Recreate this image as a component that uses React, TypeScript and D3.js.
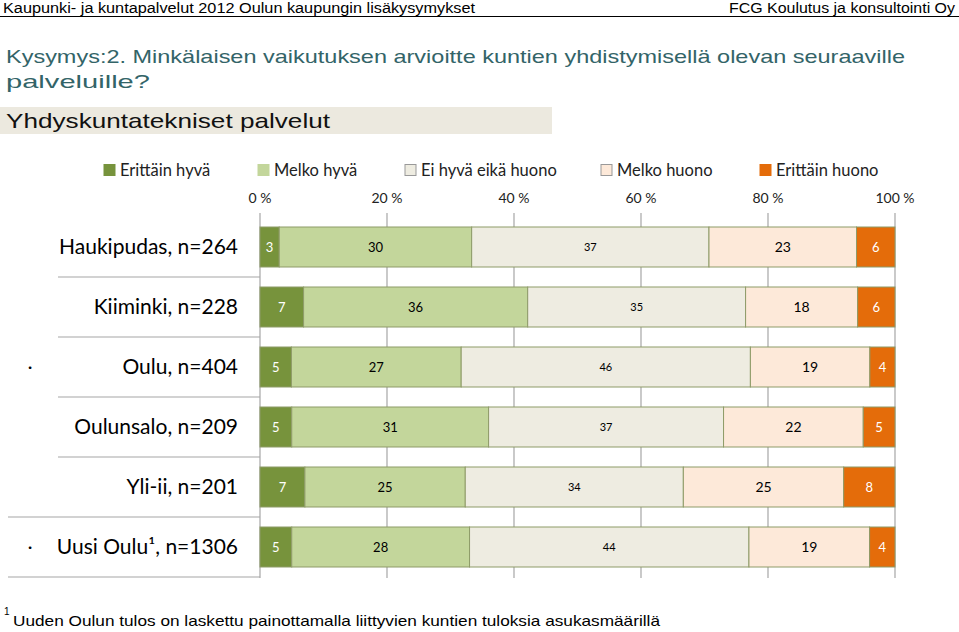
import React from "react";
import * as d3 from "d3";

const categories = [
  "Haukipudas, n=264",
  "Kiiminki, n=228",
  "Oulu, n=404",
  "Oulunsalo, n=209",
  "Yli-ii, n=201",
  "Uusi Oulu¹, n=1306",
];
const seriesNames = ["Erittäin hyvä", "Melko hyvä", "Ei hyvä eikä huono", "Melko huono", "Erittäin huono"];
const erittainHyva = [3, 7, 5, 5, 7, 5];
const melkoHyva = [30, 36, 27, 31, 25, 28];
const eiHyvaEikaHuono = [37, 35, 46, 37, 34, 44];
const melkoHuono = [23, 18, 19, 22, 25, 19];
const erittainHuono = [6, 6, 4, 5, 8, 4];
const tickValues = [0, 20, 40, 60, 80, 100];
const dotRows = [2, 5];

const colors = ["#77933C", "#C3D69B", "#EEECE1", "#FDE9D9", "#E46C0A"];
const labelColors = ["#ffffff", "#000000", "#000000", "#000000", "#ffffff"];
const labelSizes = [13, 13, 11, 14, 13];
const legendX = [104, 258, 405, 601, 760];

export default function App() {
  const W = 959;
  const H = 632;
  const series = [erittainHyva, melkoHyva, eiHyvaEikaHuono, melkoHuono, erittainHuono];
  const x = d3.scaleLinear().domain([0, 100]).range([260, 895]);
  const y = d3
    .scaleBand<number>()
    .domain(categories.map((_, i) => i))
    .range([217, 577])
    .paddingInner(1 / 3)
    .paddingOuter(1 / 6);
  const step = y.step();
  const font = "Lato, 'Open Sans', sans-serif";
  const narrow = "'Liberation Sans Narrow', 'Liberation Sans', Arial, sans-serif";

  const rows = categories.map((c, i) => {
    const vals = series.map((s) => s[i]);
    const total = d3.sum(vals);
    let acc = 0;
    const segs = vals.map((v, k) => {
      const x0 = (acc / total) * 100;
      acc += v;
      const x1 = (acc / total) * 100;
      return { v, k, x0, x1 };
    });
    return { c, i, segs };
  });

  return (
    <svg
      width={W}
      height={H}
      style={{ position: "absolute", left: 0, top: 0, background: "#fff" }}
    >
      {/* header */}
      <text x={3} y={13} fontFamily={narrow} fontSize={14} textLength={472} lengthAdjust="spacingAndGlyphs">
        Kaupunki- ja kuntapalvelut 2012 Oulun kaupungin lisäkysymykset
      </text>
      <text x={729} y={13} fontFamily={narrow} fontSize={14} textLength={226} lengthAdjust="spacingAndGlyphs">
        FCG Koulutus ja konsultointi Oy
      </text>
      <line x1={0} x2={W} y1={16.5} y2={16.5} stroke="#000" strokeWidth={1} />

      {/* question */}
      <text x={6} y={63} fontFamily={narrow} fontSize={19} fill="#336468" textLength={899} lengthAdjust="spacingAndGlyphs">
        Kysymys:2. Minkälaisen vaikutuksen arvioitte kuntien yhdistymisellä olevan seuraaville
      </text>
      <text x={6} y={88} fontFamily={narrow} fontSize={19} fill="#336468" textLength={144} lengthAdjust="spacingAndGlyphs">
        palveluille?
      </text>

      {/* section title */}
      <rect x={0} y={107} width={552} height={27} fill="#ECE9DF" />
      <text x={6} y={128} fontFamily={narrow} fontSize={21} fill="#111" textLength={324} lengthAdjust="spacingAndGlyphs">
        Yhdyskuntatekniset palvelut
      </text>

      {/* legend */}
      {seriesNames.map((n, k) => (
        <g key={n}>
          <rect
            x={legendX[k]}
            y={164.5}
            width={11}
            height={11}
            fill={colors[k]}
            stroke={k === 2 || k === 3 ? "#999" : colors[k]}
            strokeWidth={1}
          />
          <text x={legendX[k] + 16} y={176} fontFamily={font} fontSize={16.5} fill="#222">
            {n}
          </text>
        </g>
      ))}

      {/* axis tick labels */}
      {tickValues.map((t) => (
        <text key={t} x={x(t)} y={203} textAnchor="middle" fontFamily={font} fontSize={14} fill="#222">
          {t} %
        </text>
      ))}

      {/* gridlines */}
      {tickValues.map((t) => (
        <line key={t} x1={x(t)} x2={x(t)} y1={213} y2={578} stroke="#A6A6A6" strokeWidth={1.2} />
      ))}

      {/* category separators */}
      {categories.map((_, i) => {
        const yy = (y(i) as number) + y.bandwidth() + (step - y.bandwidth()) / 2;
        const x1 = i >= 4 ? 8 : 58;
        return <line key={i} x1={x1} x2={x(0)} y1={yy} y2={yy} stroke="#A6A6A6" strokeWidth={1.2} />;
      })}

      {/* bars */}
      {rows.map((r) => (
        <g key={r.c}>
          {r.segs.map((s) => (
            <rect
              key={s.k}
              x={x(s.x0)}
              y={y(r.i) as number}
              width={x(s.x1) - x(s.x0)}
              height={y.bandwidth()}
              fill={colors[s.k]}
              stroke="#8E9B68"
              strokeWidth={1}
            />
          ))}
          {r.segs.map((s) => (
            <text
              key={"t" + s.k}
              x={(x(s.x0) + x(s.x1)) / 2}
              y={(y(r.i) as number) + y.bandwidth() / 2}
              dy="0.35em"
              textAnchor="middle"
              fontFamily={font}
              fontSize={labelSizes[s.k]}
              fill={labelColors[s.k]}
            >
              {s.v}
            </text>
          ))}
          <text
            x={238}
            y={(y(r.i) as number) + y.bandwidth() / 2}
            dy="0.35em"
            textAnchor="end"
            fontFamily={font}
            fontSize={21}
            fill="#000"
          >
            {r.c}
          </text>
        </g>
      ))}

      {dotRows.map((i) => (
        <text key={i} x={30} y={(y(i) as number) + y.bandwidth() / 2} dy="0.35em" textAnchor="middle" fontFamily={font} fontSize={18}>
          ·
        </text>
      ))}

      {/* footnote */}
      <text x={4} y={615} fontFamily={narrow} fontSize={10}>
        1
      </text>
      <text x={13} y={626} fontFamily="'Liberation Sans', Arial, sans-serif" fontSize={15} textLength={647} lengthAdjust="spacingAndGlyphs">
        Uuden Oulun tulos on laskettu painottamalla liittyvien kuntien tuloksia asukasmäärillä
      </text>
    </svg>
  );
}
